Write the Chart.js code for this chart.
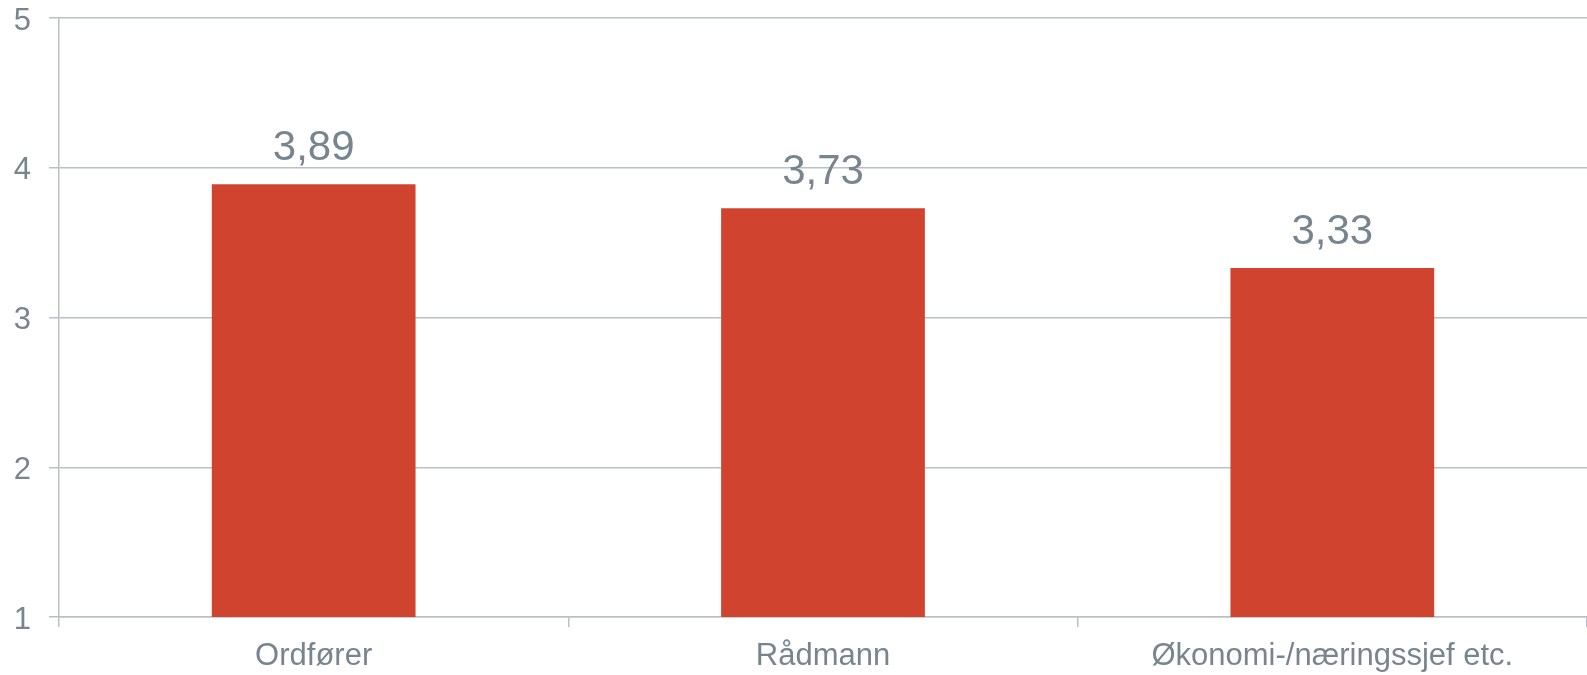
<!DOCTYPE html>
<html>
<head>
<meta charset="utf-8">
<script src="https://cdn.jsdelivr.net/npm/chart.js@4/dist/chart.umd.min.js"></script>
<style>
  html, body { margin: 0; padding: 0; background: #fff; }
  #wrap { width: 1587px; height: 675px; }
</style>
</head>
<body>
<div id="wrap"><canvas id="barChart"></canvas></div>
<script>
const categories = ['Ordfører', 'Rådmann', 'Økonomi-/næringssjef etc.'];
const values = [3.89, 3.73, 3.33];
const yTicks = [1, 2, 3, 4, 5];

const barColor = '#d0432e';
const textColor = '#77858f';
const gridColor = '#b9bfc4';
const fontFam = '"Liberation Sans", Arial, sans-serif';

// draw the value above each bar, with comma as decimal sign
const valueLabels = {
    id: 'valueLabels',
    afterDatasetsDraw(chart) {
        const ctx = chart.ctx;
        const meta = chart.getDatasetMeta(0);
        ctx.save();
        ctx.font = '42px ' + fontFam;
        ctx.fillStyle = textColor;
        ctx.textAlign = 'center';
        ctx.textBaseline = 'alphabetic';
        meta.data.forEach((bar, i) => {
            const txt = values[i].toFixed(2).replace('.', ',');
            ctx.fillText(txt, bar.x, bar.y - 24);
        });
        ctx.restore();
    }
};

const chart = new Chart(document.getElementById('barChart'), {
    type: 'bar',
    data: {
        labels: categories,
        datasets: [{
            data: values,
            backgroundColor: barColor,
            borderWidth: 0,
            categoryPercentage: 1,
            barPercentage: 0.4
        }]
    },
    options: {
        responsive: true,
        maintainAspectRatio: false,
        animation: false,
        layout: { padding: 0 },
        plugins: {
            legend: { display: false },
            tooltip: { enabled: false }
        },
        scales: {
            x: {
                offset: true,
                afterFit(scale) { scale.height = 58; },
                grid: {
                    offset: true,
                    drawOnChartArea: false,
                    drawTicks: true,
                    tickLength: 10,
                    color: gridColor,
                    lineWidth: 1.5
                },
                border: { color: gridColor, width: 1.5 },
                ticks: {
                    color: textColor,
                    padding: 11,
                    maxRotation: 0,
                    font: { family: fontFam, size: 31 }
                }
            },
            y: {
                min: 1,
                max: 5,
                afterFit(scale) {
                    scale.width = 59;
                    scale.paddingTop = 18;
                    scale.paddingBottom = 0;
                },
                afterBuildTicks(scale) { scale.ticks = yTicks.map(v => ({ value: v })); },
                grid: {
                    color: gridColor,
                    lineWidth: 1.5,
                    drawTicks: true,
                    tickLength: 10
                },
                border: { color: gridColor, width: 1.5 },
                ticks: {
                    color: textColor,
                    padding: 18,
                    labelOffset: 3,
                    font: { family: fontFam, size: 31 }
                }
            }
        }
    },
    plugins: [valueLabels]
});
</script>
</body>
</html>
